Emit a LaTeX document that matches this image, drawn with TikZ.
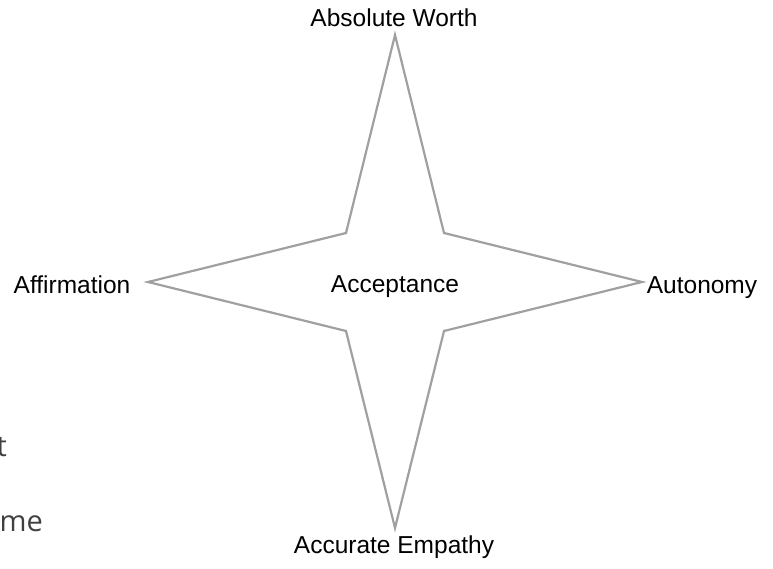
\documentclass[tikz,border=0pt]{standalone}
\usepackage{fontspec}
\setmainfont{Liberation Sans}
\newfontfamily\fragfont{Open Sans}
\definecolor{starline}{HTML}{A0A0A0}
\definecolor{fragtext}{HTML}{404040}
\tikzset{
  lbl/.style={anchor=base, inner sep=0pt, font=\fontsize{24.5}{29}\selectfont, text=black},
  frag/.style={anchor=base east, inner sep=0pt, font=\fragfont\fontsize{29}{34}\selectfont, text=fragtext},
  starshape/.style={draw=starline, line width=2.2pt, line join=miter}
}
\begin{document}
\begin{tikzpicture}[x=1pt,y=-1pt]
\useasboundingbox (0,0) rectangle (773,569);
% star points
\coordinate (top) at (395,35);
\coordinate (ur) at (444,233);
\coordinate (right) at (642,282);
\coordinate (lr) at (444,331);
\coordinate (bottom) at (395,528);
\coordinate (ll) at (346,331);
\coordinate (left) at (148,282);
\coordinate (ul) at (346,233);
\draw[starshape] (top) -- (ur) -- (right) -- (lr) -- (bottom) -- (ll) -- (left) -- (ul) -- cycle;
% labels
\node[lbl] (worth) at (394,27) {Absolute Worth};
\node[lbl] (accept) at (395,292) {Acceptance};
\node[lbl] (affirm) at (72,293) {Affirmation};
\node[lbl] (auton) at (702,293) {Autonomy};
\node[lbl] (empathy) at (394,553) {Accurate Empathy};
% cut-off fragments at the left edge
\node[frag] (fragt) at (7,456) {t};
\node[frag] (fragme) at (43,531) {me};
\end{tikzpicture}
\end{document}
